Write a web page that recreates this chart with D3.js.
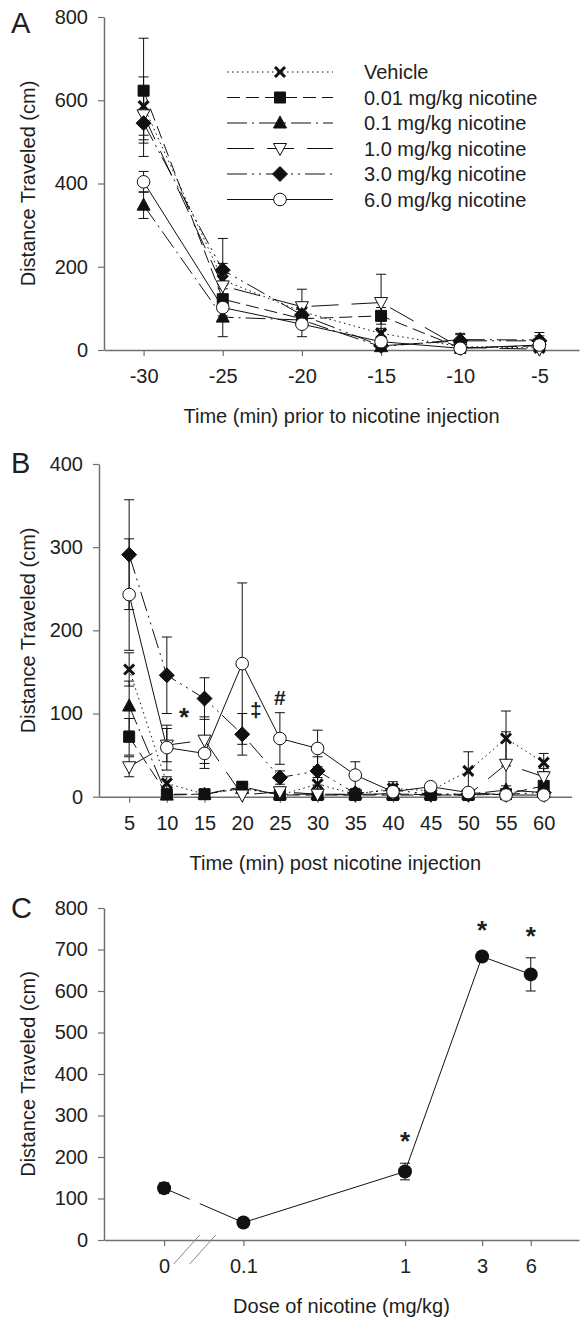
<!DOCTYPE html>
<html>
<head>
<meta charset="utf-8">
<script src="https://cdn.jsdelivr.net/npm/d3@7"></script>
<style>
  body { margin: 0; background: #fff; }
  svg text { font-family: "Liberation Sans", Arial, Helvetica, sans-serif; fill: #1e1e1e; }
</style>
</head>
<body>
<div id="chart"></div>
<script>
var width = 580,
    height = 1319;

// ---- data ----
const seriesNames = ["Vehicle", "0.01 mg/kg nicotine", "0.1 mg/kg nicotine",
    "1.0 mg/kg nicotine", "3.0 mg/kg nicotine", "6.0 mg/kg nicotine"];

// panel A: time before injection
const timeA = [-30, -25, -20, -15, -10, -5];
const ticksA = [0, 200, 400, 600, 800];
const vehicleA = [586, 168, 92, 40, 8, 5];
const vehicleSemA = [70, 40, 20, 12, 6, 4];
const nic001A = [623, 122, 75, 82, 5, 10];
const nic001SemA = [126, 25, 15, 20, 4, 6];
const nic01A = [348, 79, 72, 8, 25, 24];
const nic01SemA = [32, 47, 10, 5, 12, 10];
const nic1A = [565, 154, 104, 114, 6, 2];
const nic1SemA = [60, 30, 42, 68, 5, 3];
const nic3A = [545, 192, 84, 10, 22, 22];
const nic3SemA = [80, 76, 15, 8, 18, 20];
const nic6A = [404, 102, 62, 20, 4, 12];
const nic6SemA = [25, 20, 30, 10, 3, 5];

// panel B: time after injection
const timeB = [5, 10, 15, 20, 25, 30, 35, 40, 45, 50, 55, 60];
const ticksB = [0, 100, 200, 300, 400];
const vehicleB = [153, 16, 3, 10, 2, 15, 3, 10, 7, 31, 70, 41];
const vehicleSemB = [20, 8, 3, 6, 2, 8, 3, 8, 5, 23, 33, 11];
const nic001B = [72, 3, 3, 12, 2, 2, 2, 2, 2, 2, 3, 13];
const nic001SemB = [22, 3, 3, 6, 2, 2, 2, 2, 2, 2, 3, 6];
const nic01B = [109, 2, 3, 10, 3, 3, 3, 3, 3, 3, 8, 5];
const nic01SemB = [30, 2, 3, 6, 2, 2, 2, 2, 2, 2, 5, 3];
const nic1B = [36, 62, 68, 2, 6, 3, 2, 4, 2, 2, 39, 24];
const nic1SemB = [12, 20, 28, 2, 4, 2, 2, 3, 2, 2, 39, 10];
const nic3B = [291, 146, 118, 75, 23, 31, 4, 8, 3, 3, 3, 5];
const nic3SemB = [66, 46, 25, 25, 8, 17, 4, 5, 2, 2, 2, 3];
const nic6B = [243, 59, 52, 160, 70, 58, 26, 6, 12, 5, 2, 2];
const nic6SemB = [67, 27, 18, 97, 31, 22, 16, 5, 4, 3, 2, 2];
// significance marks in B: [time, value, symbol]
const marksB = [[12.3, 102, "*"], [21.8, 105, "\u2021"], [25, 120, "#"]];

// panel C: dose response
const doseC = [0, 0.1, 1, 3, 6];
const doseLabelsC = ["0", "0.1", "1", "3", "6"];
const ticksC = [0, 100, 200, 300, 400, 500, 600, 700, 800];
const meanC = [125, 42, 165, 683, 640];
const semC = [13, 4, 20, 10, 40];
const sigC = [false, false, true, true, true];

// ---- styles per series ----
const styles = [
    { marker: "cross", fill: "none", dash: "1.5,3.5" },
    { marker: "square", fill: "#111", dash: "13,6" },
    { marker: "triUp", fill: "#111", dash: "20,5,2,5" },
    { marker: "triDown", fill: "#fff", dash: "27,13" },
    { marker: "diamond", fill: "#111", dash: "20,5,2,5,2,5" },
    { marker: "circle", fill: "#fff", dash: null }
];

function markerPath(type) {
    switch (type) {
        case "cross": return "M-5,-5L5,5M-5,5L5,-5";
        case "square": return "M-5.5,-5.5H5.5V5.5H-5.5Z";
        case "triUp": return "M0,-7L6.5,5L-6.5,5Z";
        case "triDown": return "M0,7L6.5,-5L-6.5,-5Z";
        case "diamond": return "M0,-7.5L7.5,0L0,7.5L-7.5,0Z";
        default: return "M-6.3,0A6.3,6.3 0 1,0 6.3,0A6.3,6.3 0 1,0 -6.3,0Z";
    }
}

function drawMarker(g, type, fill, cx, cy) {
    var p = g.append("path")
        .attr("d", markerPath(type))
        .attr("transform", "translate(" + cx + "," + cy + ")")
        .attr("stroke", "#111");
    if (type == "cross") {
        p.attr("fill", "none").attr("stroke-width", 3);
    } else {
        p.attr("fill", fill).attr("stroke-width", 1);
    }
}

function errorBar(g, cx, y, m, s) {
    var lo = Math.max(0, m - s), hi = m + s;
    g.append("line").attr("x1", cx).attr("x2", cx)
        .attr("y1", y(lo)).attr("y2", y(hi))
        .attr("stroke", "#111").attr("stroke-width", 1);
    g.append("line").attr("x1", cx - 5).attr("x2", cx + 5)
        .attr("y1", y(hi)).attr("y2", y(hi))
        .attr("stroke", "#111").attr("stroke-width", 1);
    if (m - s > 0) {
        g.append("line").attr("x1", cx - 5).attr("x2", cx + 5)
            .attr("y1", y(lo)).attr("y2", y(lo))
            .attr("stroke", "#111").attr("stroke-width", 1);
    }
}

function styleAxis(g) {
    g.select(".domain").attr("stroke", "#707070").attr("stroke-width", 1.5);
    g.selectAll(".tick line").attr("stroke", "#707070").attr("stroke-width", 1.2);
    g.selectAll(".tick text").attr("font-size", "20px").attr("fill", "#1e1e1e");
}

// plain hyphen for negative ticks, like the original
var plainInt = function (d) { return String(d); };

function axes(svg, x, y, xTicks, xFormat, yTicks, xTitle, letter, letterY) {
    svg.append("g")
        .attr("transform", "translate(0," + y.range()[0] + ")")
        .call(d3.axisBottom(x).tickValues(xTicks).tickFormat(xFormat)
            .tickSize(6).tickSizeOuter(0).tickPadding(13))
        .call(styleAxis);
    svg.append("g")
        .attr("transform", "translate(" + x.range()[0] + ",0)")
        .call(d3.axisLeft(y).tickValues(yTicks).tickSize(6).tickSizeOuter(0).tickPadding(10))
        .call(styleAxis);

    svg.append("text")
        .attr("x", (x.range()[0] + x.range()[1]) / 2)
        .attr("y", y.range()[0] + 73)
        .attr("text-anchor", "middle")
        .attr("font-size", "20px")
        .text(xTitle);
    svg.append("text")
        .attr("transform", "translate(35," + (y.range()[0] + y.range()[1]) / 2 + ") rotate(-90)")
        .attr("text-anchor", "middle")
        .attr("font-size", "20px")
        .text("Distance Traveled (cm)");
    svg.append("text")
        .attr("x", 11).attr("y", letterY)
        .attr("font-size", "29px")
        .text(letter);
}

function drawGroups(svg, x, y, times, means, sems) {
    var gl = svg.append("g");
    means.forEach(function (m, k) {
        gl.append("path")
            .attr("d", d3.line().x(function (d, i) { return x(times[i]); }).y(function (d) { return y(d); })(m))
            .attr("fill", "none")
            .attr("stroke", "#111")
            .attr("stroke-width", 1)
            .attr("stroke-dasharray", styles[k].dash);
    });
    var ge = svg.append("g");
    means.forEach(function (m, k) {
        m.forEach(function (d, i) { errorBar(ge, x(times[i]), y, d, sems[k][i]); });
    });
    var gm = svg.append("g");
    means.forEach(function (m, k) {
        m.forEach(function (d, i) { drawMarker(gm, styles[k].marker, styles[k].fill, x(times[i]), y(d)); });
    });
}

var svg = d3.select("#chart")
    .append("svg")
    .attr("width", width)
    .attr("height", height);

// ---- panel A ----
var xA = d3.scaleLinear().domain([-32.5, -2.5]).range([104, 579]);
var yA = d3.scaleLinear().domain([0, 800]).range([350, 17]);
axes(svg, xA, yA, timeA, plainInt, ticksA, "Time (min) prior to nicotine injection", "A", 33);
drawGroups(svg, xA, yA, timeA,
    [vehicleA, nic001A, nic01A, nic1A, nic3A, nic6A],
    [vehicleSemA, nic001SemA, nic01SemA, nic1SemA, nic3SemA, nic6SemA]);

// legend
var legend = svg.append("g");
seriesNames.forEach(function (name, k) {
    var ly = 72 + k * 25.5;
    legend.append("line")
        .attr("x1", 227).attr("x2", 333).attr("y1", ly).attr("y2", ly)
        .attr("stroke", "#111").attr("stroke-width", 1)
        .attr("stroke-dasharray", styles[k].dash);
    drawMarker(legend, styles[k].marker, styles[k].fill, 280, ly);
    legend.append("text")
        .attr("x", 364).attr("y", ly + 7)
        .attr("font-size", "20px")
        .text(name);
});

// ---- panel B ----
var xB = d3.scaleLinear().domain([1, 63.7]).range([99, 571.6]);
var yB = d3.scaleLinear().domain([0, 400]).range([796.7, 464]);
axes(svg, xB, yB, timeB, plainInt, ticksB, "Time (min) post nicotine injection", "B", 473);
drawGroups(svg, xB, yB, timeB,
    [vehicleB, nic001B, nic01B, nic1B, nic3B, nic6B],
    [vehicleSemB, nic001SemB, nic01SemB, nic1SemB, nic3SemB, nic6SemB]);

svg.append("g").selectAll("text")
    .data(marksB)
    .join("text")
    .attr("x", function (d) { return xB(d[0]); })
    .attr("y", function (d) { return yB(d[1]) + (d[2] == "*" ? 14 : 8); })
    .attr("text-anchor", "middle")
    .attr("font-size", function (d) { return d[2] == "*" ? "26px" : "21px"; })
    .attr("font-weight", "bold")
    .text(function (d) { return d[2]; });

// ---- panel C ----
var zeroAt = 0.0323,   // where dose 0 sits on the broken log axis
    breakAt = 0.05;
var xLog = d3.scaleLog().domain([0.01372, 11.93]).range([104, 579]);
var xC = function (d) { return xLog(d == 0 ? zeroAt : d); };
var yC = d3.scaleLinear().domain([0, 800]).range([1240, 908]);

svg.append("g")
    .attr("transform", "translate(0," + yC.range()[0] + ")")
    .call(d3.axisBottom(xLog).tickValues(doseC.map(function (d) { return d == 0 ? zeroAt : d; }))
        .tickFormat(function (d, i) { return doseLabelsC[i]; })
        .tickSize(6).tickSizeOuter(0).tickPadding(13))
    .call(styleAxis);
svg.append("g")
    .attr("transform", "translate(104,0)")
    .call(d3.axisLeft(yC).tickValues(ticksC).tickSize(6).tickSizeOuter(0).tickPadding(10))
    .call(styleAxis);
svg.append("text")
    .attr("x", 341.5).attr("y", yC.range()[0] + 73)
    .attr("text-anchor", "middle").attr("font-size", "20px")
    .text("Dose of nicotine (mg/kg)");
svg.append("text")
    .attr("transform", "translate(35," + (yC.range()[0] + yC.range()[1]) / 2 + ") rotate(-90)")
    .attr("text-anchor", "middle").attr("font-size", "20px")
    .text("Distance Traveled (cm)");
svg.append("text").attr("x", 11).attr("y", 918).attr("font-size", "29px").text("C");

// axis break slashes, hanging below the axis
var bx = xLog(breakAt);
[-8, 8].forEach(function (o) {
    svg.append("line")
        .attr("x1", bx + o - 13).attr("y1", yC(0) + 24)
        .attr("x2", bx + o + 13).attr("y2", yC(0) - 5)
        .attr("stroke", "#8a8a8a").attr("stroke-width", 1);
});

// dose-response line with a gap at the break
var gC = svg.append("g");
var p0 = [xC(doseC[0]), yC(meanC[0])], p1 = [xC(doseC[1]), yC(meanC[1])];
var t0 = (bx - 5 - p0[0]) / (p1[0] - p0[0]), t1 = (bx + 5 - p0[0]) / (p1[0] - p0[0]);
gC.append("line").attr("x1", p0[0]).attr("y1", p0[1])
    .attr("x2", p0[0] + t0 * (p1[0] - p0[0])).attr("y2", p0[1] + t0 * (p1[1] - p0[1]))
    .attr("stroke", "#111");
gC.append("line").attr("x1", p0[0] + t1 * (p1[0] - p0[0])).attr("y1", p0[1] + t1 * (p1[1] - p0[1]))
    .attr("x2", p1[0]).attr("y2", p1[1])
    .attr("stroke", "#111");
gC.append("path")
    .attr("d", d3.line().x(function (d, i) { return xC(doseC[i + 1]); }).y(function (d) { return yC(d); })(meanC.slice(1)))
    .attr("fill", "none").attr("stroke", "#111");

meanC.forEach(function (m, i) {
    errorBar(gC, xC(doseC[i]), yC, m, semC[i]);
    gC.append("circle")
        .attr("cx", xC(doseC[i])).attr("cy", yC(m)).attr("r", 7)
        .attr("fill", "#111");
    if (sigC[i]) {
        gC.append("text")
            .attr("x", xC(doseC[i]))
            .attr("y", yC(m + semC[i]) - 28 + 15)
            .attr("text-anchor", "middle")
            .attr("font-size", "26px")
            .attr("font-weight", "bold")
            .text("*");
    }
});
</script>
</body>
</html>
